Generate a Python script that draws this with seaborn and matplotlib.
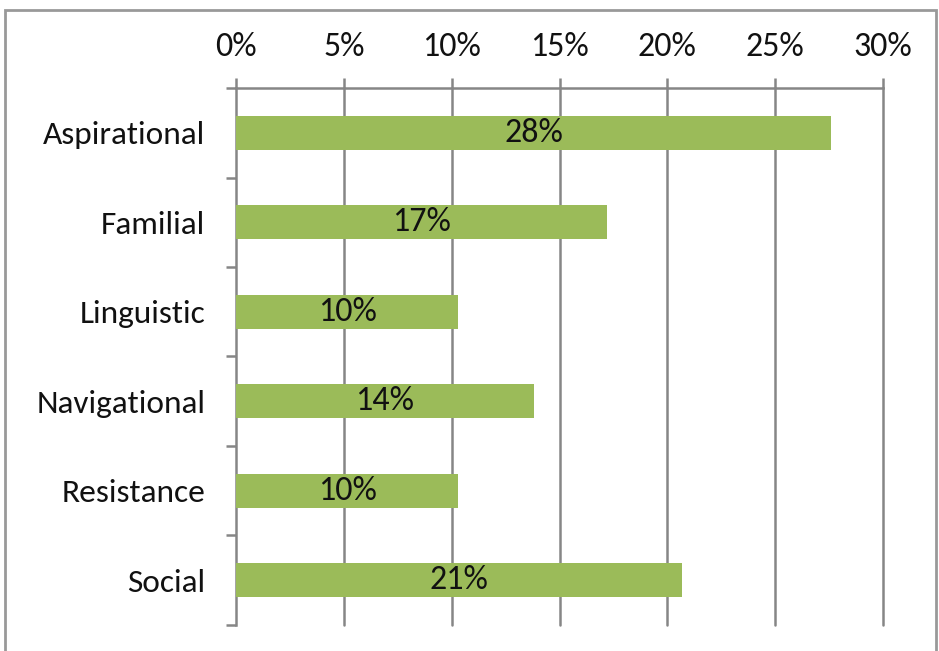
import matplotlib
matplotlib.use("Agg")
import matplotlib.pyplot as plt
import seaborn as sns
import pandas as pd
from matplotlib.patches import Rectangle
from matplotlib.ticker import FixedLocator, FuncFormatter

categories = ["Aspirational", "Familial", "Linguistic", "Navigational", "Resistance", "Social"]
values = [27.6, 17.2, 10.3, 13.8, 10.3, 20.7]
labels = ["28%", "17%", "10%", "14%", "10%", "21%"]
xticks = [0, 5, 10, 15, 20, 25, 30]

sns.set_style("white")
plt.rcParams["font.family"] = ["Carlito", "DejaVu Sans"]

df = pd.DataFrame({"cat": categories, "val": values})

fig = plt.figure(figsize=(9.39, 6.51), dpi=100)
ax = fig.add_axes([0.2513, 0.04, 0.9404 - 0.2513, 0.8648 - 0.04])

grid_col = "#868686"
sns.barplot(data=df, y="cat", x="val", orient="h", color="#9BBB59",
            saturation=1, width=0.38, ax=ax, zorder=3, linewidth=0)

ax.set_xlim(0, 30)
ax.set_ylim(len(categories) - 0.5, -0.5)
ax.xaxis.tick_top()
ax.set_xticks(xticks)
ax.xaxis.set_major_formatter(FuncFormatter(lambda v, p: f"{int(v)}%"))
ax.tick_params(axis="x", which="major", top=True, bottom=False, direction="out",
               length=7, width=1.8, color=grid_col, labelsize=24.5, pad=12,
               labelcolor="#111111")
ax.set_xlabel("")
ax.set_ylabel("")

ax.set_yticks(range(len(categories)))
ax.set_yticklabels(categories)
ax.tick_params(axis="y", which="major", left=False, length=0, labelsize=24, pad=22,
               labelcolor="#111111")
ax.yaxis.set_minor_locator(FixedLocator([i - 0.5 for i in range(len(categories) + 1)]))
ax.tick_params(axis="y", which="minor", left=True, direction="out", length=7,
               width=1.8, color=grid_col)

for x in xticks[1:]:
    ax.axvline(x, color=grid_col, lw=1.8, zorder=1, clip_on=False)

for s in ["bottom", "right"]:
    ax.spines[s].set_visible(False)
for s in ["top", "left"]:
    ax.spines[s].set_visible(True)
    ax.spines[s].set_color(grid_col)
    ax.spines[s].set_linewidth(1.8)

for i, (v, lab) in enumerate(zip(values, labels)):
    ax.text(v / 2, i, lab, ha="center", va="center", fontsize=24.5, color="#111111", zorder=4)

fig.patches.append(Rectangle((5 / 939, -0.05), 931 / 939, 1 - 10 / 651 + 0.05,
                             transform=fig.transFigure, fill=False,
                             edgecolor="#999999", lw=2, zorder=0))

fig.savefig("out.png", dpi=100)
